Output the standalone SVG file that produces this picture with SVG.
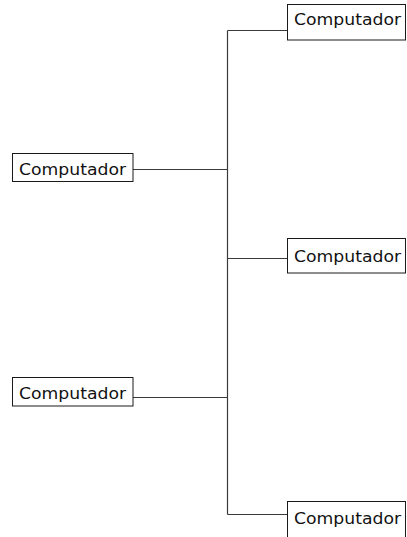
<svg xmlns="http://www.w3.org/2000/svg" width="407" height="537" viewBox="0 0 407 537">
  <style>
    .box { fill: #ffffff; stroke: #1a1a1a; stroke-width: 1; }
    .lbl { font-family: "DejaVu Sans", "Liberation Sans", sans-serif; font-size: 16px; fill: #111111; }
    .wire { stroke: #3a3a3a; stroke-width: 1.2; fill: none; }
  </style>
  <rect width="407" height="537" fill="#ffffff"/>
  <g id="connectors">
    <line class="wire" x1="227.5" y1="30.5" x2="227.5" y2="514.5"/>
    <line class="wire" x1="227.5" y1="30.5" x2="287" y2="30.5"/>
    <line class="wire" x1="227.5" y1="258.5" x2="287" y2="258.5"/>
    <line class="wire" x1="227.5" y1="514.5" x2="287" y2="514.5"/>
    <line class="wire" x1="133" y1="169.5" x2="227.5" y2="169.5"/>
    <line class="wire" x1="133" y1="397.5" x2="227.5" y2="397.5"/>
  </g>
  <g id="node-right-top">
    <rect class="box" x="287.5" y="4.5" width="118" height="35.5"/>
    <text class="lbl" x="294" y="25" textLength="107" lengthAdjust="spacingAndGlyphs">Computador</text>
  </g>
  <g id="node-left-top">
    <rect class="box" x="12.5" y="153.5" width="120.5" height="28"/>
    <text class="lbl" x="19" y="175" textLength="107" lengthAdjust="spacingAndGlyphs">Computador</text>
  </g>
  <g id="node-right-middle">
    <rect class="box" x="287.5" y="238.5" width="118" height="34.5"/>
    <text class="lbl" x="294" y="262" textLength="107" lengthAdjust="spacingAndGlyphs">Computador</text>
  </g>
  <g id="node-left-bottom">
    <rect class="box" x="12.5" y="377.5" width="120.5" height="28.5"/>
    <text class="lbl" x="19" y="399" textLength="107" lengthAdjust="spacingAndGlyphs">Computador</text>
  </g>
  <g id="node-right-bottom">
    <rect class="box" x="287.5" y="501.5" width="118" height="45"/>
    <text class="lbl" x="294" y="524" textLength="107" lengthAdjust="spacingAndGlyphs">Computador</text>
  </g>
</svg>
